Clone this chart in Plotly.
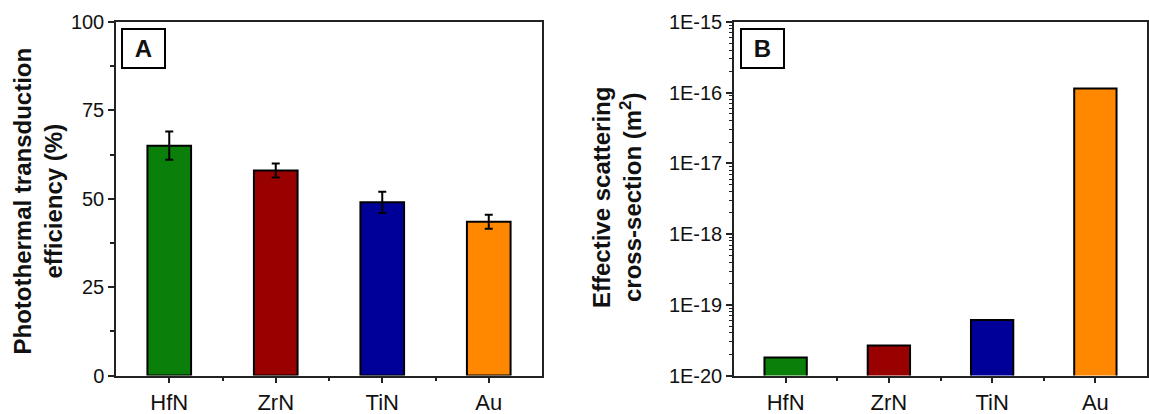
import plotly.graph_objects as go

# Materials and measured quantities
materials = ["HfN", "ZrN", "TiN", "Au"]
bar_colors = ["#0a800a", "#990000", "#000099", "#ff8800"]

efficiency = [65.0, 58.0, 49.0, 43.5]        # photothermal transduction efficiency (%)
efficiency_err = [4.0, 2.0, 3.0, 2.0]

scattering = [1.8e-20, 2.65e-20, 6.1e-20, 1.15e-16]  # effective scattering cross-section (m^2)

eff_ticks = [0, 25, 50, 75, 100]
eff_minor = [12.5, 37.5, 62.5, 87.5]
log_tick_vals = [1e-20, 1e-19, 1e-18, 1e-17, 1e-16, 1e-15]
log_tick_text = ["1E-20", "1E-19", "1E-18", "1E-17", "1E-16", "1E-15"]

W, H = 1149, 414
FONT = "Liberation Sans, Arial, sans-serif"
AXIS_COLOR = "#222222"

xpos = list(range(len(materials)))
x_minor = [p + 0.5 for p in xpos[:-1]]
log_minor = [k * 10.0 ** e for e in range(-20, -15) for k in range(2, 10)]

fig = go.Figure()

fig.add_trace(go.Bar(
    x=xpos, y=efficiency, width=0.41,
    marker=dict(color=bar_colors, line=dict(color="black", width=2)),
    error_y=dict(type="data", array=efficiency_err, color="black", thickness=2, width=4),
    xaxis="x", yaxis="y", showlegend=False,
))

fig.add_trace(go.Bar(
    x=xpos, y=scattering, width=0.41,
    marker=dict(color=bar_colors, line=dict(color="black", width=2)),
    xaxis="x2", yaxis="y2", showlegend=False,
))

ydom = [(H - 375.5) / H, (H - 22) / H]

common_x = dict(
    range=[-0.5, 3.5], tickmode="array", tickvals=xpos, ticktext=materials,
    ticks="outside", ticklen=6, tickwidth=1.5, tickcolor=AXIS_COLOR,
    minor=dict(ticks="outside", ticklen=4, tickwidth=1.5, tickcolor=AXIS_COLOR,
               tickmode="array", tickvals=x_minor, showgrid=False),
    showline=True, linecolor=AXIS_COLOR, linewidth=1.5, mirror=True,
    showgrid=False, zeroline=False, automargin=False,
    tickfont=dict(family=FONT, size=22, color="#111111"),
)

fig.update_layout(
    width=W, height=H,
    margin=dict(l=0, r=0, t=0, b=0, autoexpand=False),
    paper_bgcolor="white", plot_bgcolor="white",
    xaxis=dict(domain=[116 / W, 542 / W], anchor="y", **common_x),
    yaxis=dict(
        domain=ydom, anchor="x", range=[0, 100], tickmode="array", tickvals=eff_ticks,
        ticks="outside", ticklen=6, tickwidth=1.5, tickcolor=AXIS_COLOR,
        minor=dict(ticks="outside", ticklen=4, tickwidth=1.5, tickcolor=AXIS_COLOR,
                   tickmode="array", tickvals=eff_minor, showgrid=False),
        showline=True, linecolor=AXIS_COLOR, linewidth=1.5, mirror=True,
        showgrid=False, zeroline=False, automargin=False,
        tickfont=dict(family=FONT, size=20, color="#111111"),
    ),
    xaxis2=dict(domain=[734 / W, 1147 / W], anchor="y2", **common_x),
    yaxis2=dict(
        domain=ydom, anchor="x2", type="log", range=[-20, -15],
        tickmode="array", tickvals=log_tick_vals, ticktext=log_tick_text,
        ticks="outside", ticklen=6, tickwidth=1.5, tickcolor=AXIS_COLOR,
        minor=dict(ticks="outside", ticklen=3, tickwidth=1, tickcolor=AXIS_COLOR,
                   tickmode="array", tickvals=log_minor, showgrid=False),
        showline=True, linecolor=AXIS_COLOR, linewidth=1.5, mirror=True,
        showgrid=False, zeroline=False, automargin=False,
        tickfont=dict(family=FONT, size=20, color="#111111"),
    ),
    font=dict(family=FONT, color="#111111"),
)

annotations = [
    dict(text="<b>Photothermal transduction<br>efficiency (%)</b>",
         x=37.5 / W, y=1 - 201 / H, textangle=-90, font=dict(size=24)),
    dict(text="<b>Effective scattering<br>cross-section (m<sup>2</sup>)</b>",
         x=617 / W, y=1 - 198 / H, textangle=-90, font=dict(size=24)),
    dict(text="<b>A</b>", x=143.5 / W, y=1 - 48.5 / H, font=dict(size=24),
         bordercolor="black", borderwidth=2, borderpad=0, bgcolor="white",
         width=41, height=37),
    dict(text="<b>B</b>", x=762.5 / W, y=1 - 48.5 / H, font=dict(size=24),
         bordercolor="black", borderwidth=2, borderpad=0, bgcolor="white",
         width=41, height=37),
]
for a in annotations:
    a.update(xref="paper", yref="paper", xanchor="center", yanchor="middle",
             showarrow=False)
    a["font"] = dict(family=FONT, color="#111111", **a["font"])
fig.update_layout(annotations=annotations)

fig.write_html("out.html")
